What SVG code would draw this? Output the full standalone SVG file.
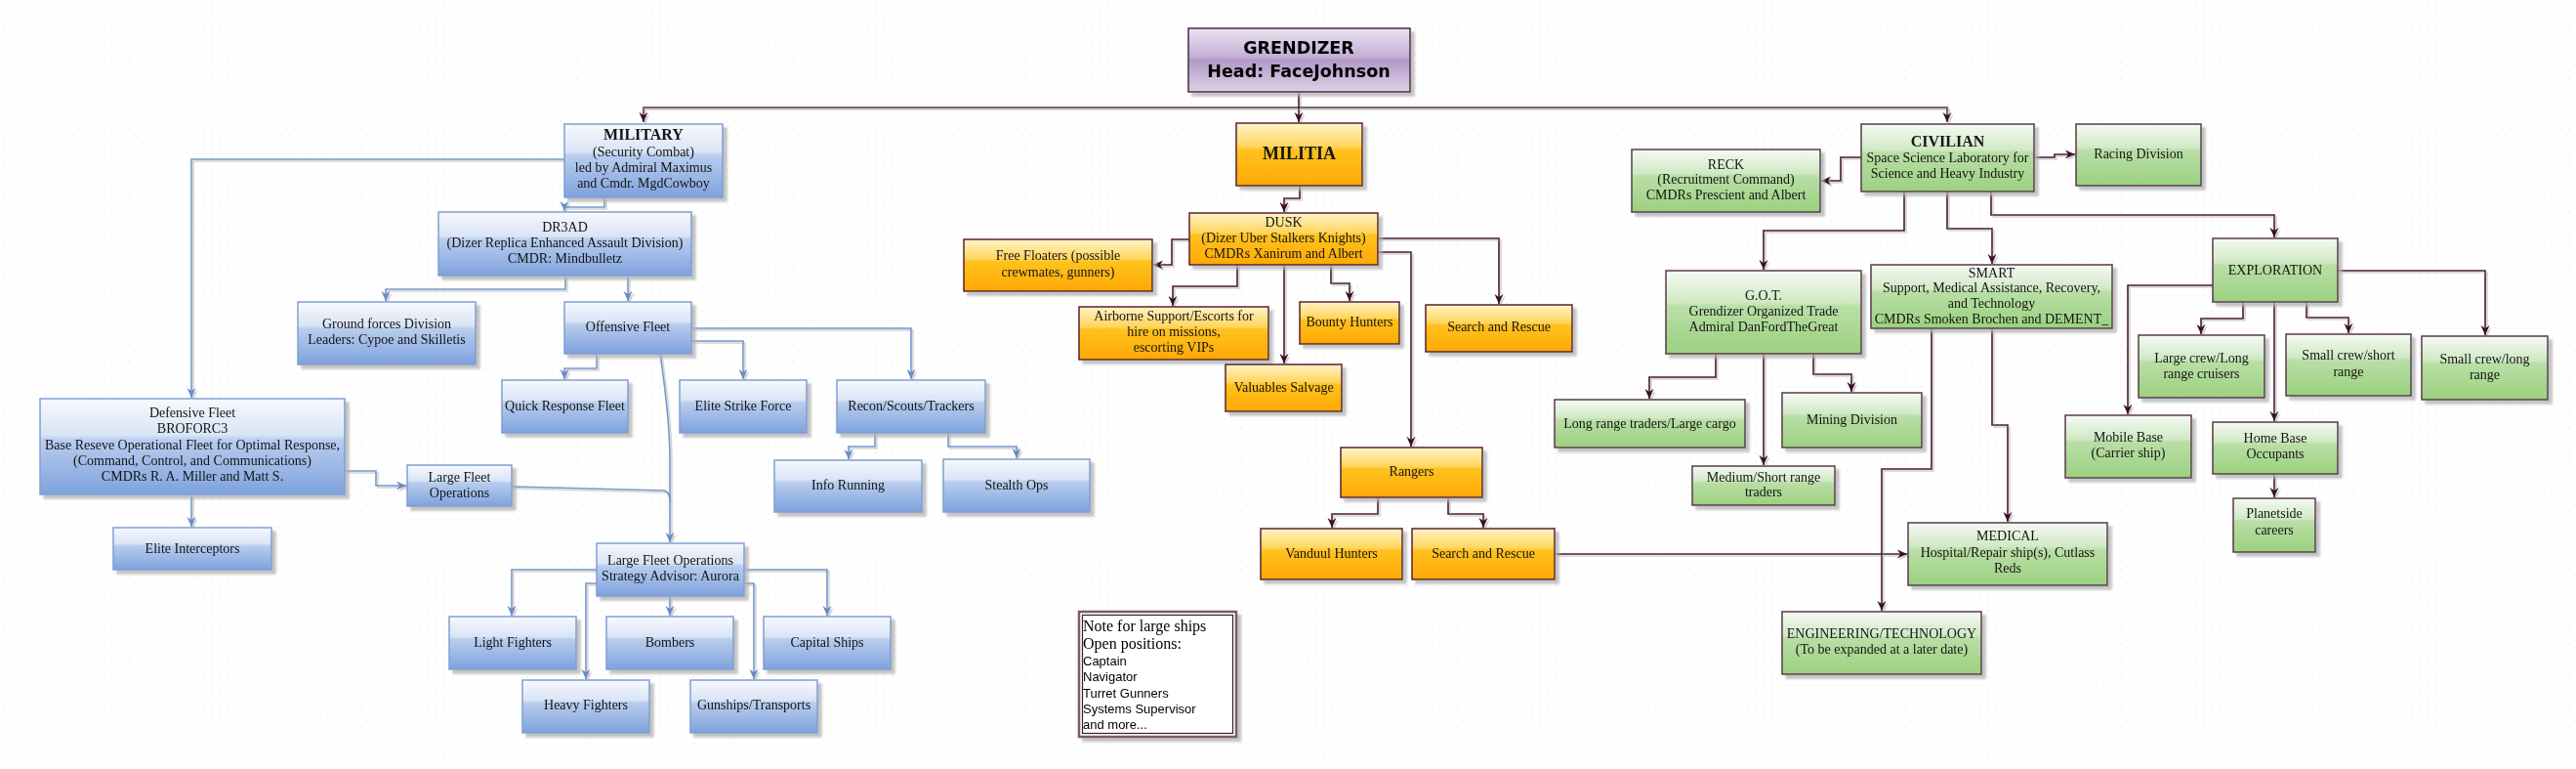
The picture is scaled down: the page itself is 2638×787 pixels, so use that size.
<svg xmlns="http://www.w3.org/2000/svg" width="2638" height="787" viewBox="0 0 2638 787">
<style>
.t{font-family:"Liberation Serif","Times New Roman",serif;font-size:14px;fill:#141414;text-anchor:middle}
.tb{font-weight:bold;font-size:16px}
.tm{font-weight:bold;font-size:18px}
.hd{font-family:"DejaVu Sans","Liberation Sans",sans-serif;font-weight:bold;font-size:17.5px;fill:#000;text-anchor:middle}
.n1{font-family:"Liberation Serif","Times New Roman",serif;font-size:16px;fill:#000}
.n2{font-family:"Liberation Sans","Arial",sans-serif;font-size:13px;fill:#000}
.b{fill:url(#gB);stroke:#809fd2;stroke-width:1.5}
.o{fill:url(#gO);stroke:#5a2232;stroke-width:1.5}
.g{fill:url(#gG);stroke:#5a3a4a;stroke-width:1.5}
.p{fill:url(#gP);stroke:#4a2a40;stroke-width:1.5}
.nodes g{filter:url(#bs)}
.cb{fill:none;stroke:#7596cc;stroke-width:1.6}
.cd{fill:none;stroke:#4a1a30;stroke-width:1.6}
.ct{fill:none;stroke:#7d6577;stroke-width:2.2}
</style>
<defs>
<pattern id="dots" width="8.5" height="8.5" patternUnits="userSpaceOnUse"><rect x="4" y="4" width="1" height="1" fill="#d6d6d6"/></pattern>
<linearGradient id="gB" x1="0" y1="0" x2="0" y2="1"><stop offset="0" stop-color="#f7f9fe"/><stop offset="0.38" stop-color="#d9e4f5"/><stop offset="0.43" stop-color="#b9cdee"/><stop offset="1" stop-color="#7ea2dd"/></linearGradient>
<linearGradient id="gO" x1="0" y1="0" x2="0" y2="1"><stop offset="0" stop-color="#fff3c8"/><stop offset="0.38" stop-color="#ffd55c"/><stop offset="0.43" stop-color="#ffc21e"/><stop offset="1" stop-color="#ffa903"/></linearGradient>
<linearGradient id="gG" x1="0" y1="0" x2="0" y2="1"><stop offset="0" stop-color="#f6faf4"/><stop offset="0.38" stop-color="#d0e9c4"/><stop offset="0.43" stop-color="#b9dea6"/><stop offset="1" stop-color="#9bd17f"/></linearGradient>
<linearGradient id="gP" x1="0" y1="0" x2="0" y2="1"><stop offset="0" stop-color="#ebe3f1"/><stop offset="0.45" stop-color="#c3afd4"/><stop offset="0.5" stop-color="#b39ac6"/><stop offset="1" stop-color="#ddd0e7"/></linearGradient>
<filter id="bs" x="-5%" y="-5%" width="115%" height="125%"><feDropShadow dx="4" dy="4" stdDeviation="0.8" flood-color="#b0b0b0" flood-opacity="0.75"/></filter>
<filter id="ls" x="-5%" y="-5%" width="110%" height="110%"><feDropShadow dx="2" dy="2" stdDeviation="0.3" flood-color="#c8c8c8" flood-opacity="0.8"/></filter>
<marker id="ab" viewBox="0 0 10 10" refX="10" refY="5" markerWidth="10" markerHeight="10" markerUnits="userSpaceOnUse" orient="auto"><path d="M0,0.5 L10,5 L0,9.5 L3,5 z" fill="#6a8cc6"/></marker>
<marker id="ad" viewBox="0 0 10 10" refX="10" refY="5" markerWidth="10" markerHeight="10" markerUnits="userSpaceOnUse" orient="auto"><path d="M0,0.5 L10,5 L0,9.5 L3,5 z" fill="#3a1028"/></marker>
</defs>
<rect width="2638" height="787" fill="#ffffff"/>
<rect width="2638" height="787" fill="url(#dots)"/>

<g id="connectors" filter="url(#ls)">
<path class="ct" d="M1330,110 H659 V125" marker-end="url(#ad)"/>
<path class="ct" d="M1330,110 H1994 V125" marker-end="url(#ad)"/>
<path class="cd" d="M1330,94 V125" marker-end="url(#ad)"/>
<path class="cb" d="M578,163 H196 V407" marker-end="url(#ab)"/>
<path class="cb" d="M619,202 V212 H578 V216" marker-end="url(#ab)"/>
<path class="cb" d="M579,282 V296 H395 V308" marker-end="url(#ab)"/>
<path class="cb" d="M643,282 V308" marker-end="url(#ab)"/>
<path class="cb" d="M611,362 V377 H578 V388" marker-end="url(#ab)"/>
<path class="cb" d="M708,349 H761 V388" marker-end="url(#ab)"/>
<path class="cb" d="M708,336 H933 V388" marker-end="url(#ab)"/>
<path class="cb" d="M896,443 V457 H869 V470" marker-end="url(#ab)"/>
<path class="cb" d="M971,443 V457 H1041 V469" marker-end="url(#ab)"/>
<path class="cb" d="M676,362 Q686,430 686,470 V555" marker-end="url(#ab)"/>
<path class="cb" d="M524,498 L680,502 Q686,503 686,514"/>
<path class="cb" d="M196,506 V539" marker-end="url(#ab)"/>
<path class="cb" d="M353,482 H385 V497 H416" marker-end="url(#ab)"/>
<path class="cb" d="M611,583 H524 V630" marker-end="url(#ab)"/>
<path class="cb" d="M611,597 H600 V695" marker-end="url(#ab)"/>
<path class="cb" d="M686,610 V630" marker-end="url(#ab)"/>
<path class="cb" d="M762,583 H847 V630" marker-end="url(#ab)"/>
<path class="cb" d="M762,597 H772 V695" marker-end="url(#ab)"/>
<path class="cd" d="M1331,190 V203 H1315 V217" marker-end="url(#ad)"/>
<path class="cd" d="M1218,245 H1200 V271 H1181" marker-end="url(#ad)"/>
<path class="cd" d="M1267,271 V293 H1201 V313" marker-end="url(#ad)"/>
<path class="cd" d="M1315,271 V372" marker-end="url(#ad)"/>
<path class="cd" d="M1363,271 V290 H1382 V308" marker-end="url(#ad)"/>
<path class="cd" d="M1411,244 H1535 V311" marker-end="url(#ad)"/>
<path class="cd" d="M1411,258 H1445 V457" marker-end="url(#ad)"/>
<path class="cd" d="M1411,509 V526 H1364 V540" marker-end="url(#ad)"/>
<path class="cd" d="M1483,509 V526 H1519 V540" marker-end="url(#ad)"/>
<path class="cd" d="M1592,567 H1953" marker-end="url(#ad)"/>
<path class="cd" d="M1906,161 H1885 V185 H1865" marker-end="url(#ad)"/>
<path class="cd" d="M2083,161 H2104 V158 H2125" marker-end="url(#ad)"/>
<path class="cd" d="M1950,196 V236 H1806 V276" marker-end="url(#ad)"/>
<path class="cd" d="M1994,196 V234 H2040 V270" marker-end="url(#ad)"/>
<path class="cd" d="M2039,196 V220 H2329 V243" marker-end="url(#ad)"/>
<path class="cd" d="M2266,292 H2179 V424" marker-end="url(#ad)"/>
<path class="cd" d="M2297,309 V326 H2254 V342" marker-end="url(#ad)"/>
<path class="cd" d="M2329,309 V431" marker-end="url(#ad)"/>
<path class="cd" d="M2329,485 V509" marker-end="url(#ad)"/>
<path class="cd" d="M2362,309 V325 H2405 V341" marker-end="url(#ad)"/>
<path class="cd" d="M2394,277 H2545 V343" marker-end="url(#ad)"/>
<path class="cd" d="M1757,362 V386 H1689 V408" marker-end="url(#ad)"/>
<path class="cd" d="M1857,362 V383 H1896 V401" marker-end="url(#ad)"/>
<path class="cd" d="M1806,362 V476" marker-end="url(#ad)"/>
<path class="cd" d="M1978,336 V480 H1927 V625" marker-end="url(#ad)"/>
<path class="cd" d="M2040,336 V435 H2056 V534" marker-end="url(#ad)"/>
</g>

<g class="nodes">
<g id="grendizer"><rect class="p" x="1217" y="29" width="227" height="65"/><text class="hd" x="1330" y="55">GRENDIZER</text><text class="hd" x="1330" y="79">Head: FaceJohnson</text></g>

<g id="military"><rect class="b" x="578" y="127" width="162" height="75"/><text class="t tb" x="659" y="143">MILITARY</text><text class="t" x="659" y="160">(Security Combat)</text><text class="t" x="659" y="176">led by Admiral Maximus</text><text class="t" x="659" y="192">and Cmdr. MgdCowboy</text></g>
<g id="dr3ad"><rect class="b" x="449" y="217" width="259" height="65"/><text class="t" x="578.5" y="237">DR3AD</text><text class="t" x="578.5" y="253">(Dizer Replica Enhanced Assault Division)</text><text class="t" x="578.5" y="269">CMDR: Mindbulletz</text></g>
<g id="ground"><rect class="b" x="305" y="309" width="182" height="64"/><text class="t" x="396" y="336">Ground forces Division</text><text class="t" x="396" y="352">Leaders: Cypoe and Skilletis</text></g>
<g id="offensive"><rect class="b" x="578" y="309" width="130" height="53"/><text class="t" x="643" y="339">Offensive Fleet</text></g>
<g id="quick"><rect class="b" x="514" y="389" width="129" height="54"/><text class="t" x="578.5" y="420">Quick Response Fleet</text></g>
<g id="elitestrike"><rect class="b" x="696" y="389" width="130" height="54"/><text class="t" x="761" y="420">Elite Strike Force</text></g>
<g id="recon"><rect class="b" x="857" y="389" width="152" height="54"/><text class="t" x="933" y="420">Recon/Scouts/Trackers</text></g>
<g id="info"><rect class="b" x="793" y="471" width="151" height="53"/><text class="t" x="868.5" y="501">Info Running</text></g>
<g id="stealth"><rect class="b" x="966" y="470" width="150" height="54"/><text class="t" x="1041" y="501">Stealth Ops</text></g>
<g id="defensive"><rect class="b" x="41" y="408" width="312" height="98"/><text class="t" x="197" y="427">Defensive Fleet</text><text class="t" x="197" y="443">BROFORC3</text><text class="t" x="197" y="460">Base Reseve Operational Fleet for Optimal Response,</text><text class="t" x="197" y="476">(Command, Control, and Communications)</text><text class="t" x="197" y="492">CMDRs R. A. Miller and Matt S.</text></g>
<g id="eliteint"><rect class="b" x="116" y="540" width="162" height="43"/><text class="t" x="197" y="566">Elite Interceptors</text></g>
<g id="largefleet"><rect class="b" x="417" y="476" width="107" height="42"/><text class="t" x="470.5" y="493">Large Fleet</text><text class="t" x="470.5" y="509">Operations</text></g>
<g id="lfo"><rect class="b" x="611" y="556" width="151" height="54"/><text class="t" x="686.5" y="578">Large Fleet Operations</text><text class="t" x="686.5" y="594">Strategy Advisor: Aurora</text></g>
<g id="light"><rect class="b" x="460" y="631" width="130" height="54"/><text class="t" x="525" y="662">Light Fighters</text></g>
<g id="heavy"><rect class="b" x="535" y="696" width="130" height="54"/><text class="t" x="600" y="726">Heavy Fighters</text></g>
<g id="bombers"><rect class="b" x="621" y="631" width="130" height="54"/><text class="t" x="686" y="662">Bombers</text></g>
<g id="capital"><rect class="b" x="782" y="631" width="130" height="54"/><text class="t" x="847" y="662">Capital Ships</text></g>
<g id="gunships"><rect class="b" x="707" y="696" width="130" height="54"/><text class="t" x="772" y="726">Gunships/Transports</text></g>

<g id="militia"><rect class="o" x="1266" y="126" width="129" height="64"/><text class="t tm" x="1330.5" y="163">MILITIA</text></g>
<g id="dusk"><rect class="o" x="1218" y="218" width="193" height="53"/><text class="t" x="1314.5" y="232">DUSK</text><text class="t" x="1314.5" y="248">(Dizer Uber Stalkers Knights)</text><text class="t" x="1314.5" y="264">CMDRs Xanirum and Albert</text></g>
<g id="freefloaters"><rect class="o" x="987" y="245" width="193" height="53"/><text class="t" x="1083.5" y="266">Free Floaters (possible</text><text class="t" x="1083.5" y="283">crewmates, gunners)</text></g>
<g id="airborne"><rect class="o" x="1105" y="314" width="194" height="54"/><text class="t" x="1202" y="328">Airborne Support/Escorts for</text><text class="t" x="1202" y="344">hire on missions,</text><text class="t" x="1202" y="360">escorting VIPs</text></g>
<g id="valuables"><rect class="o" x="1255" y="373" width="119" height="48"/><text class="t" x="1314.5" y="401">Valuables Salvage</text></g>
<g id="bounty"><rect class="o" x="1331" y="309" width="102" height="43"/><text class="t" x="1382" y="334">Bounty Hunters</text></g>
<g id="sar1"><rect class="o" x="1460" y="312" width="150" height="48"/><text class="t" x="1535" y="339">Search and Rescue</text></g>
<g id="rangers"><rect class="o" x="1373" y="458" width="145" height="51"/><text class="t" x="1445.5" y="487">Rangers</text></g>
<g id="vanduul"><rect class="o" x="1291" y="541" width="145" height="52"/><text class="t" x="1363.5" y="571">Vanduul Hunters</text></g>
<g id="sar2"><rect class="o" x="1446" y="541" width="146" height="52"/><text class="t" x="1519" y="571">Search and Rescue</text></g>

<g id="note"><rect x="1105" y="626" width="161" height="128" fill="#fff" stroke="#7a5a6c" stroke-width="2.5"/><rect x="1108.5" y="629.5" width="154" height="121" fill="none" stroke="#3a1a2a" stroke-width="1.2"/>
<text class="n1" x="1109" y="646">Note for large ships</text><text class="n1" x="1109" y="664">Open positions:</text><text class="n2" x="1109" y="681">Captain</text><text class="n2" x="1109" y="697">Navigator</text><text class="n2" x="1109" y="714">Turret Gunners</text><text class="n2" x="1109" y="730">Systems Supervisor</text><text class="n2" x="1109" y="746">and more...</text></g>

<g id="civilian"><rect class="g" x="1906" y="127" width="177" height="69"/><text class="t tb" x="1994.5" y="150">CIVILIAN</text><text class="t" x="1994.5" y="166">Space Science Laboratory for</text><text class="t" x="1994.5" y="182">Science and Heavy Industry</text></g>
<g id="reck"><rect class="g" x="1671" y="153" width="193" height="64"/><text class="t" x="1767.5" y="173">RECK</text><text class="t" x="1767.5" y="188">(Recruitment Command)</text><text class="t" x="1767.5" y="204">CMDRs Prescient and Albert</text></g>
<g id="racing"><rect class="g" x="2126" y="127" width="128" height="63"/><text class="t" x="2190" y="162">Racing Division</text></g>
<g id="got"><rect class="g" x="1706" y="277" width="200" height="85"/><text class="t" x="1806" y="307">G.O.T.</text><text class="t" x="1806" y="323">Grendizer Organized Trade</text><text class="t" x="1806" y="339">Admiral DanFordTheGreat</text></g>
<g id="smart"><rect class="g" x="1916" y="271" width="247" height="65"/><text class="t" x="2039.5" y="284">SMART</text><text class="t" x="2039.5" y="299">Support, Medical Assistance, Recovery,</text><text class="t" x="2039.5" y="315">and Technology</text><text class="t" x="2039.5" y="331">CMDRs Smoken Brochen and DEMENT_</text></g>
<g id="exploration"><rect class="g" x="2266" y="244" width="128" height="65"/><text class="t" x="2330" y="281">EXPLORATION</text></g>
<g id="mobilebase"><rect class="g" x="2115" y="425" width="129" height="64"/><text class="t" x="2179.5" y="452">Mobile Base</text><text class="t" x="2179.5" y="468">(Carrier ship)</text></g>
<g id="largecrew"><rect class="g" x="2190" y="343" width="129" height="64"/><text class="t" x="2254.5" y="371">Large crew/Long</text><text class="t" x="2254.5" y="387">range cruisers</text></g>
<g id="homebase"><rect class="g" x="2266" y="432" width="128" height="53"/><text class="t" x="2330" y="453">Home Base</text><text class="t" x="2330" y="469">Occupants</text></g>
<g id="planetside"><rect class="g" x="2287" y="510" width="84" height="55"/><text class="t" x="2329" y="530">Planetside</text><text class="t" x="2329" y="547">careers</text></g>
<g id="smallshort"><rect class="g" x="2341" y="342" width="128" height="63"/><text class="t" x="2405" y="368">Small crew/short</text><text class="t" x="2405" y="385">range</text></g>
<g id="smalllong"><rect class="g" x="2480" y="344" width="129" height="65"/><text class="t" x="2544.5" y="372">Small crew/long</text><text class="t" x="2544.5" y="388">range</text></g>
<g id="longrange"><rect class="g" x="1592" y="409" width="195" height="49"/><text class="t" x="1689.5" y="438">Long range traders/Large cargo</text></g>
<g id="mining"><rect class="g" x="1825" y="402" width="143" height="56"/><text class="t" x="1896.5" y="434">Mining Division</text></g>
<g id="mediumshort"><rect class="g" x="1733" y="477" width="146" height="40"/><text class="t" x="1806" y="493">Medium/Short range</text><text class="t" x="1806" y="508">traders</text></g>
<g id="medical"><rect class="g" x="1954" y="535" width="204" height="64"/><text class="t" x="2056" y="553">MEDICAL</text><text class="t" x="2056" y="570">Hospital/Repair ship(s), Cutlass</text><text class="t" x="2056" y="586">Reds</text></g>
<g id="engineering"><rect class="g" x="1825" y="626" width="204" height="64"/><text class="t" x="1927" y="653">ENGINEERING/TECHNOLOGY</text><text class="t" x="1927" y="669">(To be expanded at a later date)</text></g>
</g>
</svg>
